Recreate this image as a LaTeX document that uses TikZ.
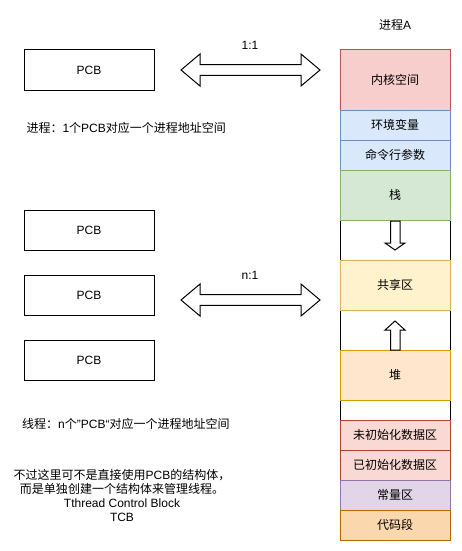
\documentclass[tikz,border=0pt]{standalone}
\usepackage{fontspec}
\setmainfont{Liberation Sans}
\newfontfamily\cjk{Noto Sans CJK SC}
\definecolor{redF}{HTML}{F8CECC}\definecolor{redD}{HTML}{B85450}
\definecolor{bluF}{HTML}{DAE8FC}\definecolor{bluD}{HTML}{6C8EBF}
\definecolor{grnF}{HTML}{D5E8D4}\definecolor{grnD}{HTML}{82B366}
\definecolor{yelF}{HTML}{FFF2CC}\definecolor{yelD}{HTML}{D6B656}
\definecolor{orgF}{HTML}{FFE6CC}\definecolor{orgD}{HTML}{D79B00}
\definecolor{rdkF}{HTML}{FAD9D5}\definecolor{rdkD}{HTML}{AE4132}
\definecolor{purF}{HTML}{E1D5E7}\definecolor{purD}{HTML}{9673A6}
\definecolor{codF}{HTML}{FAD7AC}\definecolor{codD}{HTML}{B46504}
\begin{document}
\begin{tikzpicture}[x=1pt,y=-1pt,line width=1pt,
  every node/.style={font=\fontsize{12}{14.3}\selectfont,inner sep=0pt},
  cell/.style={draw,minimum width=110pt,align=center},
  pcbbox/.style={draw,minimum width=130pt,minimum height=40pt},
  bigarrow/.style={draw=black,fill=white,line width=1pt,line join=miter}]
\useasboundingbox (0,0) rectangle (461,551);
% column gaps (white)
\node[cell,minimum height=40pt,fill=white] (gap1) at (395,240) {};
\node[cell,minimum height=40pt,fill=white] (gap2) at (395,330) {};
\node[cell,minimum height=20pt,fill=white] (gap3) at (395,410) {};
% column cells
\node[cell,minimum height=60pt,fill=redF,draw=redD] (ks) at (395,80) {\cjk 内核空间};
\node[cell,minimum height=30pt,fill=bluF,draw=bluD] (env) at (395,125) {\cjk 环境变量};
\node[cell,minimum height=30pt,fill=bluF,draw=bluD] (cmd) at (395,155) {\cjk 命令行参数};
\node[cell,minimum height=50pt,fill=grnF,draw=grnD] (stk) at (395,195) {\cjk 栈};
\node[cell,minimum height=50pt,fill=yelF,draw=yelD] (shr) at (395,285) {\cjk 共享区};
\node[cell,minimum height=50pt,fill=orgF,draw=orgD] (heap) at (395,375) {\cjk 堆};
\node[cell,minimum height=30pt,fill=rdkF,draw=rdkD] (uni) at (395,435) {\cjk 未初始化数据区};
\node[cell,minimum height=30pt,fill=rdkF,draw=rdkD] (ini) at (395,465) {\cjk 已初始化数据区};
\node[cell,minimum height=30pt,fill=purF,draw=purD] (cst) at (395,495) {\cjk 常量区};
\node[cell,minimum height=30pt,fill=codF,draw=codD] (code) at (395,525) {\cjk 代码段};
\node (title) at (395,25) {{\cjk 进程}A};
% arrows inside gaps
\draw[bigarrow] (390.7,221) -- (400,221) -- (400,243) -- (405,243) -- (395,250) -- (385,243) -- (390.7,243) -- cycle;
\draw[bigarrow] (395,321) -- (405,330) -- (400,330) -- (400,350) -- (390.7,350) -- (390.7,330) -- (385,330) -- cycle;
% PCB boxes
\node[pcbbox] (p0) at (89,70) {PCB};
\node[pcbbox] (p1) at (89,230) {PCB};
\node[pcbbox] (p2) at (89,295) {PCB};
\node[pcbbox] (p3) at (89,360) {PCB};
% double arrows
\draw[bigarrow] (181,70) -- (200,54) -- (200,64.7) -- (301,64.7) -- (301,54) -- (320,70) -- (301,86) -- (301,75.3) -- (200,75.3) -- (200,86) -- cycle;
\node (l1) at (250,45) {1:1};
\draw[bigarrow] (181,300) -- (200,284) -- (200,294.7) -- (301,294.7) -- (301,284) -- (320,300) -- (301,316) -- (301,305.3) -- (200,305.3) -- (200,316) -- cycle;
\node (l2) at (250,275) {n:1};
% texts
\node[anchor=west] (t1) at (26,128) {{\cjk 进程：}1{\cjk 个}PCB{\cjk 对应一个进程地址空间}};
\node[anchor=west] (t2) at (21.7,424) {{\cjk 线程：}n{\cjk 个}"PCB“{\cjk 对应一个进程地址空间}};
\node[align=center] (note) at (122,495.5) {{\cjk 不过这里可不是直接使用}PCB{\cjk 的结构体，}\\{\cjk 而是单独创建一个结构体来管理线程。}\\Tthread Control Block\\TCB};
\end{tikzpicture}
\end{document}
